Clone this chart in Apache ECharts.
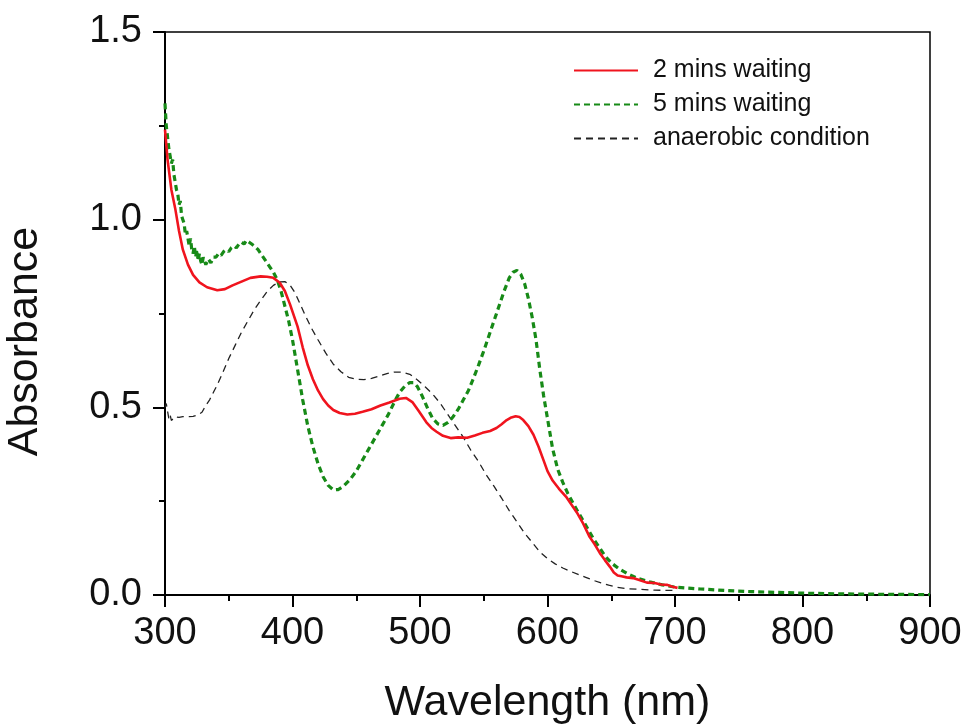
<!DOCTYPE html>
<html>
<head>
<meta charset="utf-8">
<script src="https://cdn.jsdelivr.net/npm/echarts@6/dist/echarts.min.js"></script>
<style>html,body{margin:0;padding:0;background:#fff;}#c{width:970px;height:725px;}</style>
</head>
<body>
<div id="c"></div>
<script>
const seriesNames = ['2 mins waiting', '5 mins waiting', 'anaerobic condition'];
const xTicks = [300, 400, 500, 600, 700, 800, 900];
const yTicks = [0.0, 0.5, 1.0, 1.5];

const redX = [300,302,305,308,311,314,318,322,327,333,341,347,353,360,367,375,380,385,390,394,398,404,408,412,416,420,424,428,432,437,443,449,455,462,469,476,484,489,494,499,505,509,513,518,524,530,537,543,549,555,560,564,568,571,575,578,581,585,589,593,597,600,604,609,615,619,623,628,633,637,641,645,649,652,655,658,662,667,672,678,684,689,694,698,702];
const redY = [1.24,1.16,1.08,1.03,0.97,0.92,0.88,0.853,0.833,0.82,0.812,0.815,0.825,0.835,0.845,0.849,0.848,0.845,0.832,0.81,0.775,0.715,0.66,0.612,0.575,0.545,0.522,0.505,0.493,0.485,0.481,0.483,0.488,0.495,0.505,0.513,0.523,0.525,0.514,0.49,0.46,0.445,0.435,0.424,0.418,0.42,0.419,0.425,0.432,0.437,0.445,0.455,0.466,0.472,0.476,0.474,0.466,0.45,0.427,0.395,0.358,0.33,0.305,0.283,0.26,0.24,0.22,0.19,0.155,0.135,0.112,0.093,0.075,0.06,0.052,0.05,0.047,0.045,0.04,0.033,0.032,0.028,0.027,0.022,0.019];

const greenX = [300,301,302,303,304,305,306,307,308,309,310,311,312,313,314,315,316,317,318,319,320,321,322,323,324,325,326,327,328,329,330,332,334,336,338,340,342,344,346,348,350,352,354,356,358,360,362,364,366,368,370,373,376,379,382,385,388,391,394,397,400,404,408,412,416,420,424,428,432,436,440,445,450,455,460,465,470,475,480,484,488,492,495,498,502,506,510,514,518,522,526,530,534,538,542,546,550,554,558,562,566,570,573,576,579,582,585,588,591,594,597,600,604,608,612,616,620,625,631,636,641,646,651,656,662,670,680,690,700,720,740,760,780,800,830,860,900];
const greenY = [1.31,1.25,1.22,1.19,1.17,1.15,1.16,1.12,1.10,1.08,1.07,1.04,1.05,1.01,1.0,0.99,0.96,0.97,0.95,0.93,0.95,0.92,0.91,0.93,0.90,0.92,0.89,0.91,0.89,0.88,0.90,0.88,0.895,0.885,0.9,0.9,0.91,0.905,0.915,0.92,0.915,0.925,0.93,0.925,0.935,0.94,0.935,0.945,0.94,0.935,0.93,0.92,0.905,0.89,0.875,0.86,0.84,0.81,0.77,0.73,0.68,0.6,0.52,0.45,0.395,0.35,0.315,0.292,0.28,0.281,0.29,0.307,0.33,0.36,0.39,0.42,0.45,0.48,0.515,0.54,0.556,0.566,0.566,0.555,0.528,0.497,0.47,0.456,0.452,0.46,0.475,0.495,0.52,0.545,0.578,0.613,0.65,0.69,0.73,0.77,0.81,0.845,0.86,0.865,0.855,0.83,0.79,0.74,0.68,0.6,0.53,0.47,0.39,0.335,0.3,0.27,0.245,0.215,0.18,0.15,0.125,0.1,0.083,0.07,0.058,0.045,0.035,0.027,0.021,0.016,0.012,0.009,0.007,0.005,0.003,0.002,0.001];

const blackX = [300,301,302,303,304,305,306,308,311,314,318,322,326,329,332,335,338,341,345,350,355,360,365,370,375,380,385,390,394,398,402,406,410,415,420,426,432,438,444,450,456,462,468,474,480,486,492,498,504,510,516,522,528,534,540,546,552,558,564,570,576,582,588,594,600,606,612,618,624,630,636,642,648,654,662,672,684,700];
const blackY = [0.50,0.51,0.49,0.47,0.48,0.465,0.47,0.475,0.473,0.475,0.475,0.476,0.48,0.487,0.505,0.52,0.54,0.56,0.59,0.63,0.665,0.7,0.73,0.76,0.785,0.808,0.825,0.834,0.835,0.826,0.805,0.775,0.745,0.71,0.68,0.645,0.615,0.595,0.58,0.575,0.574,0.577,0.583,0.59,0.594,0.594,0.588,0.573,0.555,0.535,0.51,0.48,0.45,0.42,0.385,0.355,0.32,0.29,0.258,0.225,0.195,0.165,0.14,0.115,0.097,0.083,0.072,0.063,0.055,0.047,0.039,0.032,0.026,0.021,0.017,0.015,0.013,0.012];

function pairs(xs, ys) { return xs.map((x, i) => [x, ys[i]]); }

const FONT = '"Liberation Sans", Arial, sans-serif';
const chart = echarts.init(document.getElementById('c'), null, {renderer: 'canvas'});
chart.setOption({
  animation: false,
  backgroundColor: '#fff',
  grid: {left: 165, right: 40, top: 32, bottom: 130, containLabel: false, outerBoundsMode: 'none',
         show: true, borderColor: '#000', borderWidth: 1.5, backgroundColor: 'transparent'},
  legend: {
    orient: 'vertical', left: 573, top: 58, padding: 0, itemWidth: 64, itemHeight: 14, itemGap: 9,
    itemStyle: {opacity: 0},
    textStyle: {fontSize: 25, color: '#111', fontFamily: FONT, padding: [0, 0, 0, 10]},
    data: seriesNames
  },
  xAxis: {
    type: 'value', min: xTicks[0], max: xTicks[xTicks.length - 1], interval: 100,
    name: 'Wavelength (nm)', nameLocation: 'middle', nameGap: 87,
    nameTextStyle: {fontSize: 43, color: '#111', fontFamily: FONT},
    axisLine: {lineStyle: {color: '#000', width: 2}},
    axisTick: {inside: false, length: 12, lineStyle: {width: 2, color: '#000'}},
    minorTick: {show: true, splitNumber: 2, length: 6, lineStyle: {width: 2, color: '#000'}},
    axisLabel: {fontSize: 38, color: '#111', fontFamily: FONT, margin: 20},
    splitLine: {show: false}
  },
  yAxis: {
    type: 'value', min: yTicks[0], max: yTicks[yTicks.length - 1], interval: 0.5,
    name: 'Absorbance', nameLocation: 'middle', nameGap: 118, nameRotate: 90,
    nameTextStyle: {fontSize: 43, color: '#111', fontFamily: FONT, padding: [0, 56, 0, 0]},
    axisLine: {show: true, lineStyle: {color: '#000', width: 2}},
    axisTick: {show: true, inside: false, length: 12, lineStyle: {width: 2, color: '#000'}},
    minorTick: {show: true, splitNumber: 2, length: 6, lineStyle: {width: 2, color: '#000'}},
    axisLabel: {fontSize: 38, color: '#111', fontFamily: FONT, margin: 23, formatter: v => v.toFixed(1)},
    splitLine: {show: false}
  },
  series: [
    {name: seriesNames[0], type: 'line', symbol: 'none', z: 4, data: pairs(redX, redY),
     lineStyle: {color: '#f0141e', width: 2.6, type: 'solid'}, itemStyle: {color: '#f0141e'}},
    {name: seriesNames[1], type: 'line', symbol: 'none', z: 3, data: pairs(greenX, greenY),
     lineStyle: {color: '#178a17', width: 3.2, type: [6, 4]}, itemStyle: {color: '#178a17'}},
    {name: seriesNames[2], type: 'line', symbol: 'none', z: 2, data: pairs(blackX, blackY),
     lineStyle: {color: '#222', width: 1.3, type: [7, 5]}, itemStyle: {color: '#222'}}
  ]
});
</script>
</body>
</html>
